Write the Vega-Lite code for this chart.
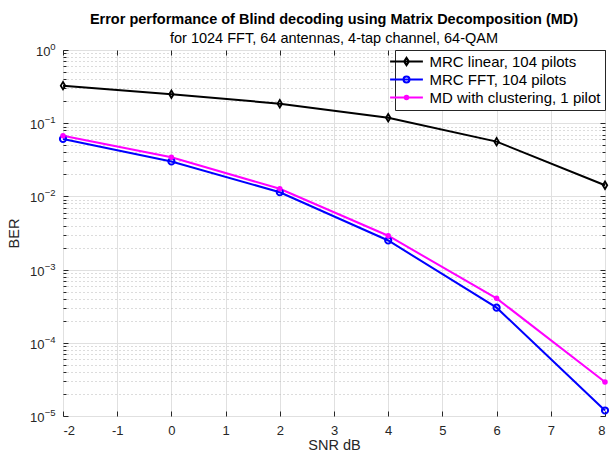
{
  "$schema": "https://vega.github.io/schema/vega-lite/v6.json",
  "width": 542,
  "height": 366,
  "autosize": {"type": "none"},
  "padding": {"left": 63, "top": 50, "right": 5, "bottom": 38},
  "background": "white",
  "config": {
    "font": "Liberation Sans",
    "view": {"stroke": "#262626", "strokeWidth": 1},
    "axis": {"labelFont": "Liberation Sans", "titleFont": "Liberation Sans", "labelColor": "#262626", "titleColor": "#262626", "tickColor": "#262626", "domainColor": "#262626"}
  },
  "title": {
    "text": "Error performance of Blind decoding using Matrix Decomposition (MD)",
    "subtitle": "for 1024 FFT, 64 antennas, 4-tap channel, 64-QAM",
    "anchor": "middle",
    "frame": "group",
    "font": "Liberation Sans",
    "fontSize": 14.5,
    "fontWeight": "bold",
    "color": "black",
    "subtitleFont": "Liberation Sans",
    "subtitleFontSize": 14.5,
    "subtitleColor": "black",
    "subtitlePadding": 5,
    "offset": -5
  },
  "data": {
    "values": [
      {"series": "MRC linear, 104 pilots", "snr": -2, "ber": 0.326},
      {"series": "MRC linear, 104 pilots", "snr": 0, "ber": 0.249},
      {"series": "MRC linear, 104 pilots", "snr": 2, "ber": 0.185},
      {"series": "MRC linear, 104 pilots", "snr": 4, "ber": 0.119},
      {"series": "MRC linear, 104 pilots", "snr": 6, "ber": 0.056},
      {"series": "MRC linear, 104 pilots", "snr": 8, "ber": 0.0142},
      {"series": "MRC FFT, 104 pilots", "snr": -2, "ber": 0.061},
      {"series": "MRC FFT, 104 pilots", "snr": 0, "ber": 0.030},
      {"series": "MRC FFT, 104 pilots", "snr": 2, "ber": 0.0114},
      {"series": "MRC FFT, 104 pilots", "snr": 4, "ber": 0.0025},
      {"series": "MRC FFT, 104 pilots", "snr": 6, "ber": 0.000302},
      {"series": "MRC FFT, 104 pilots", "snr": 8, "ber": 0.0000119},
      {"series": "MD with clustering, 1 pilot", "snr": -2, "ber": 0.0676},
      {"series": "MD with clustering, 1 pilot", "snr": 0, "ber": 0.0343},
      {"series": "MD with clustering, 1 pilot", "snr": 2, "ber": 0.0127},
      {"series": "MD with clustering, 1 pilot", "snr": 4, "ber": 0.0029},
      {"series": "MD with clustering, 1 pilot", "snr": 6, "ber": 0.000405},
      {"series": "MD with clustering, 1 pilot", "snr": 8, "ber": 0.0000292}
    ]
  },
  "layer": [
    {
      "mark": {"type": "point", "opacity": 0},
      "encoding": {
        "x": {"field": "snr", "type": "quantitative", "scale": {"domain": [-2, 8], "nice": false, "zero": false},
          "axis": {"orient": "top", "values": [-2, -1, 0, 1, 2, 3, 4, 5, 6, 7, 8], "labels": false, "grid": false, "ticks": true, "tickSize": -5, "domain": false, "title": null}},
        "y": {"field": "ber", "type": "quantitative", "scale": {"type": "log", "domain": [0.00001, 1], "nice": false},
          "axis": {"orient": "left", "values": [0.00002,0.00003,0.00004,0.00005,0.00006,0.00007,0.00008,0.00009,0.0002,0.0003,0.0004,0.0005,0.0006,0.0007,0.0008,0.0009,0.002,0.003,0.004,0.005,0.006,0.007,0.008,0.009,0.02,0.03,0.04,0.05,0.06,0.07,0.08,0.09,0.2,0.3,0.4,0.5,0.6,0.7,0.8,0.9], "labels": false, "grid": true, "gridColor": "#b8b8b8", "gridDash": [1, 3], "gridWidth": 1, "ticks": true, "tickSize": -3, "domain": false, "title": null}}
      }
    },
    {
      "mark": {"type": "point", "opacity": 0},
      "encoding": {
        "x": {"field": "snr", "type": "quantitative",
          "axis": {"orient": "bottom", "values": [-2, -1, 0, 1, 2, 3, 4, 5, 6, 7, 8], "labels": false, "grid": false, "ticks": true, "tickSize": -5, "domain": false, "title": null}},
        "y": {"field": "ber", "type": "quantitative",
          "axis": {"orient": "right", "values": [0.00001, 0.0001, 0.001, 0.01, 0.1, 1], "labels": false, "grid": false, "ticks": true, "tickSize": -5, "domain": false, "title": null}}
      }
    },
    {
      "mark": {"type": "point", "opacity": 0},
      "encoding": {
        "x": {"field": "snr", "type": "quantitative", "axis": null},
        "y": {"field": "ber", "type": "quantitative",
          "axis": {"orient": "right", "values": [0.00002,0.00003,0.00004,0.00005,0.00006,0.00007,0.00008,0.00009,0.0002,0.0003,0.0004,0.0005,0.0006,0.0007,0.0008,0.0009,0.002,0.003,0.004,0.005,0.006,0.007,0.008,0.009,0.02,0.03,0.04,0.05,0.06,0.07,0.08,0.09,0.2,0.3,0.4,0.5,0.6,0.7,0.8,0.9], "labels": false, "grid": false, "ticks": true, "tickSize": -3, "domain": false, "title": null}}
      }
    },
    {
      "mark": {"type": "point", "opacity": 0},
      "encoding": {
        "x": {"field": "snr", "type": "quantitative", "axis": null},
        "y": {"field": "ber", "type": "quantitative",
          "axis": {"orient": "left", "values": [0.00001, 0.0001, 0.001, 0.01, 0.1, 1], "labels": false, "grid": false, "ticks": true, "tickSize": -5, "domain": false, "title": null}}
      }
    },
    {
      "transform": [{"filter": "datum.series == 'MRC linear, 104 pilots'"}],
      "mark": {"type": "line", "strokeWidth": 2, "color": "#000000"},
      "encoding": {
        "x": {"field": "snr", "type": "quantitative",
          "axis": {"orient": "bottom", "values": [-2, -1, 0, 1, 2, 3, 4, 5, 6, 7, 8], "grid": true, "gridColor": "#e0e0e0", "gridWidth": 1, "ticks": false, "labelPadding": 8, "labelFontSize": 13, "labelExpr": "datum.value < 0 ? '-' + abs(datum.value) : '' + datum.value", "domain": false, "title": "SNR dB", "titleFontSize": 14.5, "titleFontWeight": "normal", "titlePadding": 1}},
        "y": {"field": "ber", "type": "quantitative",
          "axis": {"orient": "left", "values": [0.00001, 0.0001, 0.001, 0.01, 0.1, 1], "grid": true, "gridColor": "#e0e0e0", "gridWidth": 1, "ticks": false, "labelFontSize": 13, "labelOffset": 1.5,
            "labelPadding": {"condition": {"test": "datum.value >= 0.99", "value": 13}, "value": 19},
            "labelExpr": "'10'", "domain": false, "title": "BER", "titleFontSize": 14.5, "titleFontWeight": "normal", "titlePadding": 8}},
        "order": {"field": "snr", "type": "quantitative"}
      }
    },
    {
      "transform": [{"filter": "datum.series == 'MRC FFT, 104 pilots'"}],
      "mark": {"type": "line", "strokeWidth": 2, "color": "#0000ff"},
      "encoding": {
        "x": {"field": "snr", "type": "quantitative", "axis": null},
        "y": {"field": "ber", "type": "quantitative",
          "axis": {"orient": "left", "values": [0.00001, 0.0001, 0.001, 0.01, 0.1, 1], "grid": false, "ticks": false, "labelFontSize": 9.5, "labelOffset": -3.5, "labelPadding": 8,
            "labelExpr": "datum.value >= 0.99 ? '0' : datum.value >= 0.099 ? '−1' : datum.value >= 0.0099 ? '−2' : datum.value >= 0.00099 ? '−3' : datum.value >= 0.000099 ? '−4' : '−5'",
            "domain": false, "title": null}},
        "order": {"field": "snr", "type": "quantitative"}
      }
    },
    {
      "transform": [{"filter": "datum.series == 'MD with clustering, 1 pilot'"}],
      "mark": {"type": "line", "strokeWidth": 2, "color": "#ff00ff"},
      "encoding": {
        "x": {"field": "snr", "type": "quantitative", "axis": null},
        "y": {"field": "ber", "type": "quantitative", "axis": null},
        "order": {"field": "snr", "type": "quantitative"}
      }
    },
    {
      "transform": [{"filter": "datum.series == 'MRC linear, 104 pilots'"}],
      "mark": {"type": "point", "shape": "M0,-1L0.6,0L0,1L-0.6,0Z", "size": 56, "filled": false, "strokeWidth": 1.8, "color": "#000000", "opacity": 1},
      "encoding": {
        "x": {"field": "snr", "type": "quantitative", "axis": null},
        "y": {"field": "ber", "type": "quantitative", "axis": null}
      }
    },
    {
      "transform": [{"filter": "datum.series == 'MRC FFT, 104 pilots'"}],
      "mark": {"type": "point", "shape": "circle", "size": 38, "filled": false, "strokeWidth": 2, "color": "#0000ff", "opacity": 1},
      "encoding": {
        "x": {"field": "snr", "type": "quantitative", "axis": null},
        "y": {"field": "ber", "type": "quantitative", "axis": null}
      }
    },
    {
      "transform": [{"filter": "datum.series == 'MD with clustering, 1 pilot'"}],
      "mark": {"type": "point", "shape": "circle", "size": 30, "filled": true, "color": "#ff00ff", "opacity": 1},
      "encoding": {
        "x": {"field": "snr", "type": "quantitative", "axis": null},
        "y": {"field": "ber", "type": "quantitative", "axis": null}
      }
    },
    {
      "mark": {"type": "point", "opacity": 0, "filled": false},
      "encoding": {
        "x": {"field": "snr", "type": "quantitative", "axis": null},
        "y": {"field": "ber", "type": "quantitative", "axis": null},
        "color": {"field": "series", "type": "nominal", "title": null,
          "scale": {"domain": ["MRC linear, 104 pilots", "MRC FFT, 104 pilots", "MD with clustering, 1 pilot"], "range": ["#000000", "#0000ff", "#ff00ff"]},
          "legend": {"orient": "top-right", "offset": 0, "strokeColor": "#262626", "fillColor": "white", "padding": 4, "rowPadding": 2, "symbolSize": 64, "symbolStrokeWidth": 2, "symbolOpacity": 1, "symbolFillColor": "transparent", "labelFontSize": 15, "labelColor": "black", "labelFont": "Liberation Sans", "labelOffset": 15.5, "labelLimit": 300, "labelExpr": "datum.label + '  '", "zindex": 5}},
        "shape": {"field": "series", "type": "nominal", "title": null,
          "scale": {"domain": ["MRC linear, 104 pilots", "MRC FFT, 104 pilots", "MD with clustering, 1 pilot"],
            "range": ["M-4.1,0H4.1M0,-0.9L0.6,0L0,0.9L-0.6,0Z", "M-4.1,0H4.1M-0.75,0A0.75,0.75 0 1,0 0.75,0A0.75,0.75 0 1,0 -0.75,0", "M-4.1,0H4.1M-0.45,0A0.45,0.45 0 1,0 0.45,0A0.45,0.45 0 1,0 -0.45,0M-0.15,0A0.15,0.15 0 1,0 0.15,0A0.15,0.15 0 1,0 -0.15,0"]}}
      }
    }
  ],
  "resolve": {"axis": {"x": "independent", "y": "independent"}}
}
